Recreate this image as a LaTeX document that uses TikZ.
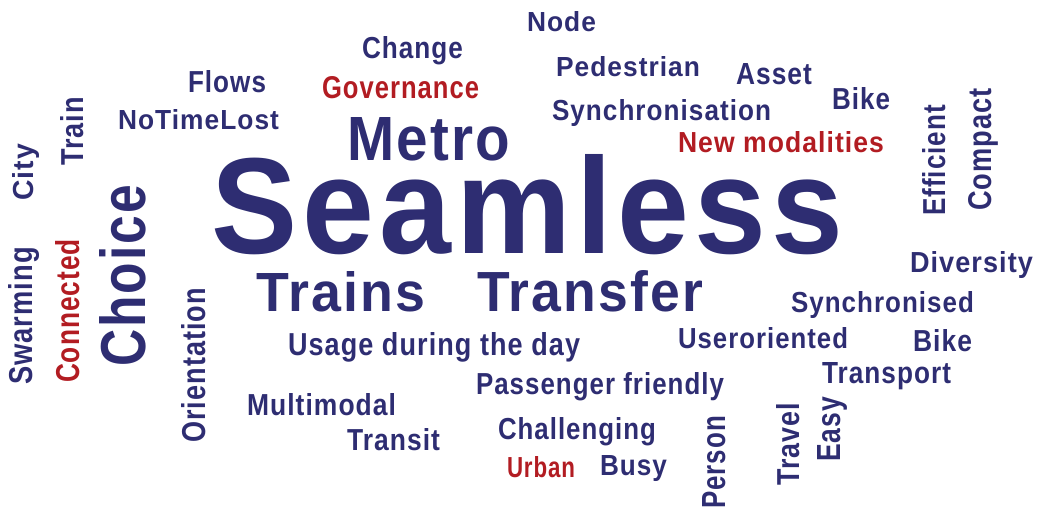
\documentclass[tikz,border=0pt]{standalone}
\usepackage{fontspec}
\usepackage{graphicx}
\setmainfont{Liberation Sans}[LetterSpace=4]
\definecolor{wblue}{RGB}{46,45,114}
\definecolor{wred}{RGB}{178,28,34}
\newcommand\wcword[3]{\resizebox{#1pt}{#2pt}{\bfseries #3}}
\tikzset{
  wcb/.style={inner sep=0pt, outer sep=0pt, anchor=base west, text=wblue},
  wcr/.style={wcb, text=wred},
  vert/.style={rotate=90}
}
\begin{document}
\begin{tikzpicture}[x=1pt,y=1pt]
\useasboundingbox (0,0) rectangle (1040,510);
% horizontal words: (left, 510-baseline)
\node[wcb] (node) at (527,510-32) {\wcword{69}{20}{Node}};
\node[wcb] (change) at (362,510-59) {\wcword{101}{22}{Change}};
\node[wcb] (pedestrian) at (556,510-77) {\wcword{144}{20}{Pedestrian}};
\node[wcb] (asset) at (736,510-85) {\wcword{76}{21}{Asset}};
\node[wcb] (flows) at (188,510-93) {\wcword{78}{22}{Flows}};
\node[wcr] (governance) at (322,510-99) {\wcword{157}{22}{Governance}};
\node[wcb] (bike1) at (832,510-110) {\wcword{58}{22}{Bike}};
\node[wcb] (synchronisation) at (552,510-121) {\wcword{219}{21}{Synchronisation}};
\node[wcb] (notimelost) at (118,510-130) {\wcword{161}{20}{NoTimeLost}};
\node[wcb] (metro) at (347,510-161) {\wcword{163}{43}{Metro}};
\node[wcr] (newmod) at (678,510-153) {\wcword{206}{21}{New modalities}};
\node[wcb] (seamless) at (211,510-254) {\wcword{632}{99}{Seamless}};
\node[wcb] (diversity) at (910,510-273) {\wcword{123}{21}{Diversity}};
\node[wcb] (trains) at (256,510-312) {\wcword{169}{40}{Trains}};
\node[wcb] (transfer) at (477,510-312) {\wcword{226}{41}{Transfer}};
\node[wcb] (synchronised) at (791,510-313) {\wcword{183}{21}{Synchronised}};
\node[wcb] (usage) at (288,510-356) {\wcword{292}{23}{Usage during the day}};
\node[wcb] (useroriented) at (678,510-349) {\wcword{170}{21}{Useroriented}};
\node[wcb] (bike2) at (913,510-352) {\wcword{59}{22}{Bike}};
\node[wcb] (transport) at (822,510-384) {\wcword{129}{21}{Transport}};
\node[wcb] (passenger) at (476,510-395) {\wcword{248}{22}{Passenger friendly}};
\node[wcb] (multimodal) at (247,510-416) {\wcword{149}{22}{Multimodal}};
\node[wcb] (transit) at (347,510-451) {\wcword{93}{22}{Transit}};
\node[wcb] (challenging) at (498,510-440) {\wcword{158}{22}{Challenging}};
\node[wcr] (urban) at (507,510-478) {\wcword{68}{21}{Urban}};
\node[wcb] (busy) at (600,510-476) {\wcword{67}{20}{Busy}};
% vertical words: (baseline x, 510-bottom)
\node[wcb,vert] (train) at (83,510-166) {\wcword{69}{23}{Train}};
\node[wcb,vert] (city) at (33,510-201) {\wcword{57}{21}{City}};
\node[wcb,vert] (efficient) at (945,510-216) {\wcword{111}{23}{Efficient}};
\node[wcb,vert] (compact) at (991,510-211) {\wcword{123}{23}{Compact}};
\node[wcb,vert] (swarming) at (32,510-385) {\wcword{138}{24}{Swarming}};
\node[wcr,vert] (connected) at (79,510-383) {\wcword{144}{24}{Connected}};
\node[wcb,vert] (choice) at (145,510-367) {\wcword{182}{46}{Choice}};
\node[wcb,vert] (orientation) at (205,510-443) {\wcword{155}{24}{Orientation}};
\node[wcb,vert] (person) at (725,510-509) {\wcword{93}{23}{Person}};
\node[wcb,vert] (travel) at (799,510-486) {\wcword{83}{23}{Travel}};
\node[wcb,vert] (easy) at (840,510-462) {\wcword{65}{23}{Easy}};
\end{tikzpicture}
\end{document}
